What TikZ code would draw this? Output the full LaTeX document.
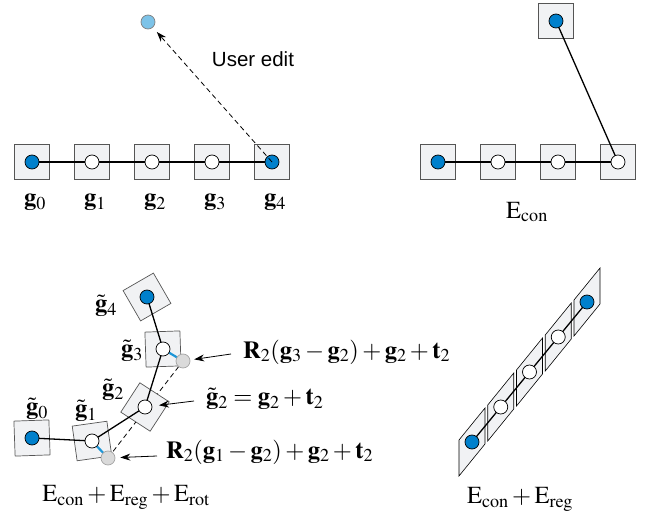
\documentclass[tikz,border=0pt]{standalone}
\usepackage{mathptmx}
\usepackage[no-math]{fontspec}
\setsansfont{Liberation Sans}
\usetikzlibrary{arrows.meta,calc}
\definecolor{gblue}{RGB}{0,128,204}
\definecolor{tblue}{RGB}{125,195,232}
\definecolor{boxfill}{RGB}{241,242,244}
\definecolor{boxline}{RGB}{85,85,85}
\definecolor{segblue}{RGB}{30,150,215}
\definecolor{grayfill}{RGB}{218,218,218}
\definecolor{grayline}{RGB}{165,165,165}
\begin{document}
\begin{tikzpicture}[x=1pt,y=-1pt,
  sq/.style={draw=boxline, fill=boxfill, minimum size=35pt, inner sep=0pt, line width=0.7pt},
  dotb/.style={circle, draw=black, fill=gblue, minimum size=14pt, inner sep=0pt, line width=0.7pt},
  dotw/.style={dotb, fill=white},
  dotg/.style={circle, draw=grayline, fill=grayfill, minimum size=14pt, inner sep=0pt, line width=0.7pt},
  dott/.style={circle, draw=gray, fill=tblue, minimum size=14pt, inner sep=0pt, line width=0.7pt},
  link/.style={line width=1.3pt, black},
  seg/.style={line width=2.2pt, segblue},
  dsh/.style={line width=0.8pt, dash pattern=on 5pt off 3.5pt},
  para/.style={draw=black, fill=boxfill, line width=0.6pt},
  lbl/.style={font=\fontsize{24.5}{28}\selectfont, inner sep=0pt},
  arr/.style={line width=0.8pt, -{Stealth[length=10pt,width=7pt]}}
]
\useasboundingbox (0,0) rectangle (649,519);

% ---------- top left ----------
\foreach \i/\x in {0/32,1/92,2/152,3/212,4/272}{
  \node[sq] (a\i) at (\x,162) {};
}
\draw[link] (a0.center) -- (a4.center);
\node[dotb] (ad0) at (a0.center) {};
\node[dotw] (ad1) at (a1.center) {};
\node[dotw] (ad2) at (a2.center) {};
\node[dotw] (ad3) at (a3.center) {};
\node[dotb] (ad4) at (a4.center) {};
\node[dott] (tgt) at (148,22) {};
\draw[dsh, -{Stealth[length=10pt,width=7pt]}, shorten >=6pt] (ad4.center) -- (tgt);
\node[inner sep=0pt, font=\fontsize{20.5}{24}\selectfont\sffamily] (ue) at (253,59) {User edit};
\foreach \i/\x in {0/35,1/95,2/155,3/215,4/275}{
  \node[lbl] (al\i) at (\x,202) {$\mathbf{g}_{\i}$};
}

% ---------- top right ----------
\foreach \i/\x in {0/438,1/498,2/558,3/618}{
  \node[sq] (b\i) at (\x,162) {};
}
\node[sq] (bt) at (556,21) {};
\draw[link] (b0.center) -- (b3.center);
\draw[link] (b3.center) -- (bt.center);
\node[dotb] (bd0) at (b0.center) {};
\node[dotw] (bd1) at (b1.center) {};
\node[dotw] (bd2) at (b2.center) {};
\node[dotw] (bd3) at (b3.center) {};
\node[dotb] (bdt) at (bt.center) {};
\node[lbl] (bcap) at (527,212) {$\mathrm{E}_{\mathrm{con}}$};

% ---------- bottom left ----------
\coordinate (q1) at (108,458);
\coordinate (q3) at (183,361);
\draw[dsh] (q1) -- (q3);
\node[sq, rotate=2]   (c0) at (32,438) {};
\node[sq, rotate=8]   (c1) at (92,441) {};
\node[sq, rotate=-33] (c2) at (145,407) {};
\node[sq, rotate=2]   (c3) at (163,349) {};
\node[sq, rotate=30]  (c4) at (147,297) {};
\draw[link] (c0.center) -- (c1.center) -- (c2.center) -- (c3.center) -- (c4.center);
\draw[seg] (c1.center) -- (q1);
\draw[seg] (c3.center) -- (q3);
\node[dotb] (cd0) at (c0.center) {};
\node[dotw] (cd1) at (c1.center) {};
\node[dotw] (cd2) at (c2.center) {};
\node[dotw] (cd3) at (c3.center) {};
\node[dotb] (cd4) at (c4.center) {};
\node[dotg] (g1) at (q1) {};
\node[dotg] (g3) at (q3) {};
\node[lbl] (cl0) at (37,409) {$\tilde{\mathbf{g}}_0$};
\node[lbl] (cl1) at (86,411) {$\tilde{\mathbf{g}}_1$};
\node[lbl] (cl2) at (113,390) {$\tilde{\mathbf{g}}_2$};
\node[lbl] (cl3) at (132,351) {$\tilde{\mathbf{g}}_3$};
\node[lbl] (cl4) at (106,306) {$\tilde{\mathbf{g}}_4$};
\node[lbl, anchor=west] (t3) at (243,352) {$\mathbf{R}_2(\mathbf{g}_3-\mathbf{g}_2)+\mathbf{g}_2+\mathbf{t}_2$};
\node[lbl, anchor=west] (t2) at (206,399) {$\tilde{\mathbf{g}}_2=\mathbf{g}_2+\mathbf{t}_2$};
\node[lbl, anchor=west] (t1) at (166,452) {$\mathbf{R}_2(\mathbf{g}_1-\mathbf{g}_2)+\mathbf{g}_2+\mathbf{t}_2$};
\draw[arr, shorten >=4pt] ([xshift=-12pt,yshift=-2pt]t3.west) -- (g3);
\draw[arr, shorten >=14pt] ([xshift=-12pt,yshift=-2pt]t2.west) -- (cd2.center);
\draw[arr, shorten >=5pt] ([xshift=-9pt,yshift=-4pt]t1.west) -- (g1);
\node[lbl] (ccap) at (126,497) {$\mathrm{E}_{\mathrm{con}}+\mathrm{E}_{\mathrm{reg}}+\mathrm{E}_{\mathrm{rot}}$};

% ---------- bottom right ----------
\foreach \i in {0,...,4}{
  \coordinate (p\i) at ($(472,442)+\i*(28.75,-35)$);
}
\foreach \i in {0,...,4}{
  \draw[para] ($(p\i)+(-13,-2)$) -- ($(p\i)+(13,-34)$) -- ($(p\i)+(13,2)$) -- ($(p\i)+(-13,34)$) -- cycle;
}
\draw[link] (p0) -- (p4);
\node[dotb] (pd0) at (p0) {};
\node[dotw] (pd1) at (p1) {};
\node[dotw] (pd2) at (p2) {};
\node[dotw] (pd3) at (p3) {};
\node[dotb] (pd4) at (p4) {};
\node[lbl] (pcap) at (520,499) {$\mathrm{E}_{\mathrm{con}}+\mathrm{E}_{\mathrm{reg}}$};
\end{tikzpicture}
\end{document}
